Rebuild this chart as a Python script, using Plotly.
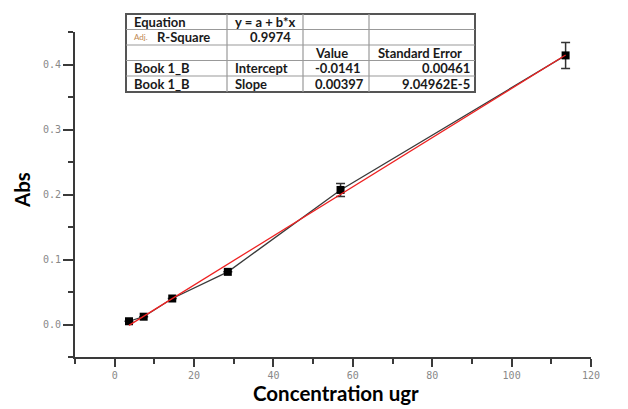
import numpy as np
import plotly.graph_objects as go

# ---- data ----
conc = [3.6, 7.3, 14.5, 28.5, 56.9, 113.6]
absorb = [0.005, 0.012, 0.040, 0.081, 0.207, 0.414]
err = [0.0, 0.0, 0.0, 0.0, 0.010, 0.020]

x_ticks = [0, 20, 40, 60, 80, 100, 120]
y_ticks = [0.0, 0.1, 0.2, 0.3, 0.4]

table_rows = [
    ["Equation", "y = a + b*x", "", ""],
    ["R-Square", "0.9974", "", ""],
    ["", "", "Value", "Standard Error"],
    ["Book 1_B", "Intercept", "-0.0141", "0.00461"],
    ["Book 1_B", "Slope", "0.00397", "9.04962E-5"],
]

W, H = 628, 409
L, R, T, B = 75, 37, 32, 52
pw, ph = W - L - R, H - T - B


def px(x):
    return (x - L) / pw


def py(y):
    return (H - B - y) / ph


slope, intercept = np.polyfit(conc, absorb, 1)
fx = [min(conc), max(conc)]
fy = [intercept + slope * v for v in fx]

fig = go.Figure()
fig.add_trace(go.Scatter(
    x=conc, y=absorb, mode="lines+markers",
    line=dict(color="#3a3a3a", width=1.3),
    marker=dict(symbol="square", size=8, color="black"),
    error_y=dict(type="data", array=err, visible=True, color="#333", thickness=1.5, width=4.5),
    showlegend=False, cliponaxis=False,
))
fig.add_trace(go.Scatter(
    x=fx, y=fy, mode="lines", line=dict(color="#ee2222", width=1.3), showlegend=False,
))

tickfont = dict(family="DejaVu Sans Mono", size=10, color="#888888")
axis_common = dict(
    showline=True, linecolor="#3a3a3a", linewidth=2, ticks="outside",
    tickcolor="#3a3a3a", tickwidth=1.5, showgrid=False, zeroline=False,
    tickfont=tickfont, mirror=False, automargin=False,
)

fig.update_layout(
    width=W, height=H, margin=dict(l=L, r=R, t=T, b=B, autoexpand=False),
    paper_bgcolor="white", plot_bgcolor="white",
    xaxis=dict(range=[-10, 120], tickvals=x_ticks, ticklen=8,
               minor=dict(ticks="outside", ticklen=5, dtick=10, tick0=0, tickcolor="#3a3a3a"),
               **axis_common),
    yaxis=dict(range=[-0.05, 0.45], tickvals=y_ticks, tickformat=".1f", ticklen=10,
               minor=dict(ticks="outside", ticklen=5, dtick=0.05, tick0=0, tickcolor="#3a3a3a"),
               **axis_common),
)

# ---- fit-parameter table ----
cols = [126, 227, 303, 369, 475]
rows = [14, 29.5, 45, 60.5, 76, 92]
shapes = []
shapes.append(dict(type="rect", xref="paper", yref="paper",
                   x0=px(cols[0]), x1=px(cols[-1]), y0=py(rows[-1]), y1=py(rows[0]),
                   fillcolor="white", line=dict(color="#555", width=2), layer="above"))
for r in rows[1:-1]:
    shapes.append(dict(type="line", xref="paper", yref="paper",
                       x0=px(cols[0]), x1=px(cols[-1]), y0=py(r), y1=py(r),
                       line=dict(color="#999", width=1.2), layer="above"))
for c in cols[1:-1]:
    shapes.append(dict(type="line", xref="paper", yref="paper",
                       x0=px(c), x1=px(c), y0=py(rows[-1]), y1=py(rows[0]),
                       line=dict(color="#999", width=1.2), layer="above"))

tfont = dict(family="Lato", size=13, color="#1a1a1a")
ann = []
right_cells = {(1, 1), (3, 3), (4, 3)}
for i, row in enumerate(table_rows):
    yc = py((rows[i] + rows[i + 1]) / 2)
    for j, txt in enumerate(row):
        if not txt:
            continue
        if (i, j) in right_cells:
            xpos, anch = (cols[j + 1] - (10 if j == 1 else 3)), "right"
        else:
            pad = 6 if j < 2 else (10 if j == 2 else 7)
            xpos, anch = cols[j] + pad, "left"
            if i == 1 and j == 0:
                xpos = 155
        ann.append(dict(x=px(xpos), y=yc, xref="paper", yref="paper", text="<b>%s</b>" % txt,
                        showarrow=False, xanchor=anch, yanchor="middle", font=tfont))
ann.append(dict(x=px(132), y=py((rows[1] + rows[2]) / 2), xref="paper", yref="paper",
                text="Adj.", showarrow=False, xanchor="left", yanchor="middle",
                font=dict(family="Lato", size=8, color="#c08850")))

# axis titles
ann.append(dict(x=px(336), y=py(393), xref="paper", yref="paper",
                text="<b>Concentration ugr</b>", showarrow=False, xanchor="center", yanchor="middle",
                font=dict(family="Lato", size=20.5, color="black")))
ann.append(dict(x=px(22), y=py(190), xref="paper", yref="paper", textangle=-90,
                text="<b>Abs</b>", showarrow=False, xanchor="center", yanchor="middle",
                font=dict(family="Lato", size=20.5, color="black")))

fig.update_layout(shapes=shapes, annotations=ann)
fig.write_html("out.html", config={"displayModeBar": False},
               post_script="document.body.style.margin='0px';")
